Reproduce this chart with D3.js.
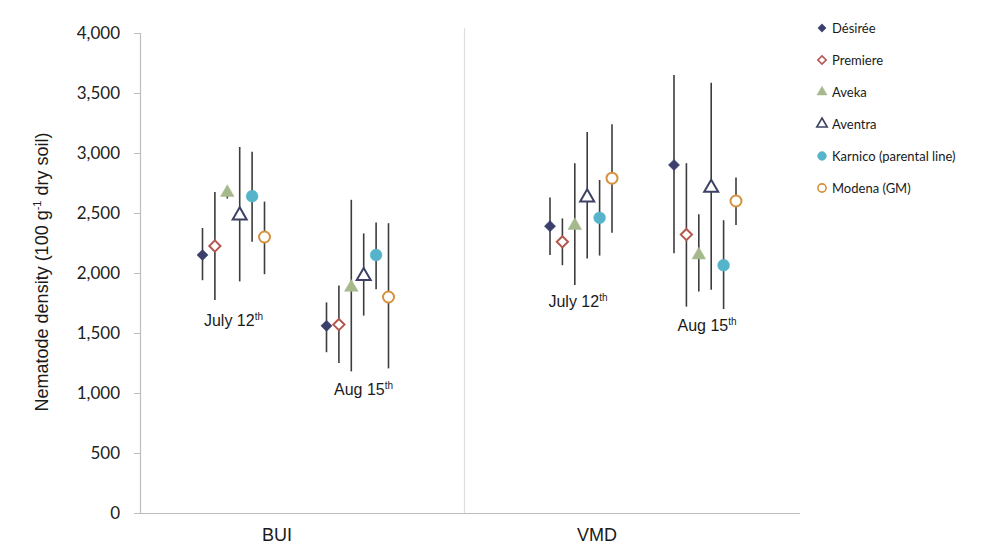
<!DOCTYPE html>
<html>
<head>
<meta charset="utf-8">
<script src="https://cdn.jsdelivr.net/npm/d3@7"></script>
<style>
  html, body { margin: 0; padding: 0; background: #ffffff; }
  svg { display: block; }
</style>
</head>
<body>
<svg id="chart" width="986" height="551"></svg>
<script>
// Cultivars (legend order)
const cultivars = ["Désirée", "Premiere", "Aveka", "Aventra", "Karnico (parental line)", "Modena (GM)"];
const sites = ["BUI", "VMD"];
const dates = ["July 12", "Aug 15"];
const yTicks = [0, 500, 1000, 1500, 2000, 2500, 3000, 3500, 4000];

// Mean nematode density per cultivar, one array per site × sampling date
const meanBUIJul = [2150, 2225, 2670, 2480, 2640, 2300];
const meanBUIAug = [1560, 1570, 1880, 1975, 2150, 1800];
const meanVMDJul = [2390, 2260, 2395, 2630, 2460, 2790];
const meanVMDAug = [2900, 2320, 2150, 2710, 2065, 2600];

// Lower / upper ends of the error bars
const lowBUIJul  = [1940, 1775, 2620, 1930, 2260, 1990];
const highBUIJul = [2375, 2675, 2720, 3050, 3010, 2595];
const lowBUIAug  = [1340, 1250, 1180, 1645, 1865, 1205];
const highBUIAug = [1755, 1895, 2610, 2330, 2420, 2415];
const lowVMDJul  = [2150, 2065, 1900, 2120, 2145, 2335];
const highVMDJul = [2630, 2455, 2915, 3175, 2775, 3240];
const lowVMDAug  = [2165, 1720, 1845, 1860, 1700, 2400];
const highVMDAug = [3650, 2915, 2490, 3585, 2440, 2795];

const series = [
  { site: "BUI", date: "July 12", mean: meanBUIJul, low: lowBUIJul, high: highBUIJul },
  { site: "BUI", date: "Aug 15",  mean: meanBUIAug, low: lowBUIAug, high: highBUIAug },
  { site: "VMD", date: "July 12", mean: meanVMDJul, low: lowVMDJul, high: highVMDJul },
  { site: "VMD", date: "Aug 15",  mean: meanVMDAug, low: lowVMDAug, high: highVMDAug }
];

// Marker styles per cultivar
const diamond = d3.symbolDiamond2 || d3.symbolDiamond;
const styles = [
  { shape: diamond,           color: "#3a3f6c", filled: true,  size: 80 },
  { shape: diamond,           color: "#b3574f", filled: false, size: 80 },
  { shape: d3.symbolTriangle, color: "#a6b98c", filled: true,  size: 80 },
  { shape: d3.symbolTriangle, color: "#3d4264", filled: false, size: 85 },
  { shape: d3.symbolCircle,   color: "#55b4c9", filled: true,  size: 110 },
  { shape: d3.symbolCircle,   color: "#d6913e", filled: false, size: 95 }
];

const svg = d3.select("#chart");
const plot = { left: 140, right: 800, top: 33, bottom: 513 };

const y = d3.scaleLinear().domain([0, 4000]).range([plot.bottom, plot.top]);
// site centre positions
const xSite = d3.scalePoint().domain(sites).range([295.5, 643]);
// sampling date offset within a site
const xDate = d3.scalePoint().domain(dates).range([-62, 62]);
// cultivar offset within a sampling date
const xCult = d3.scalePoint().domain(cultivars).range([-31, 31]);

const xPos = (s, c) => xSite(s.site) + xDate(s.date) + xCult(c);

// x axis baseline
svg.append("line")
  .attr("x1", plot.left).attr("x2", plot.right)
  .attr("y1", plot.bottom + 0.5).attr("y2", plot.bottom + 0.5)
  .attr("stroke", "#bdbdbd").attr("stroke-width", 1.2);

// divider between the two sites
svg.append("line")
  .attr("x1", 464.5).attr("x2", 464.5)
  .attr("y1", 28).attr("y2", plot.bottom)
  .attr("stroke", "#dedede").attr("stroke-width", 1.2);

// y axis
const yAxis = svg.append("g")
  .attr("transform", `translate(${plot.left},0)`)
  .call(d3.axisLeft(y).tickValues(yTicks).tickFormat(d3.format(",")).tickSize(6).tickPadding(14));
yAxis.select(".domain").attr("stroke", "#bdbdbd").attr("stroke-width", 1.2);
yAxis.selectAll(".tick line").attr("stroke", "#bdbdbd");
yAxis.selectAll(".tick text")
  .attr("fill", "#222")
  .style("font-family", "Lato, 'Open Sans', sans-serif")
  .style("font-size", "17px");

// y axis title
const yTitle = svg.append("text")
  .attr("transform", "translate(48,272) rotate(-90)")
  .attr("text-anchor", "middle")
  .attr("fill", "#1a1a1a")
  .style("font-family", "'Liberation Sans', Arial, sans-serif")
  .style("font-size", "18px");
yTitle.append("tspan").text("Nematode density (100 g");
yTitle.append("tspan").attr("dy", -7).style("font-size", "11px").text("-1");
yTitle.append("tspan").attr("dy", 7).text(" dry soil)");

// site labels
const siteLabelX = { BUI: 277, VMD: 597 };
svg.selectAll("text.site").data(sites).enter().append("text")
  .attr("class", "site")
  .attr("x", d => siteLabelX[d]).attr("y", 541)
  .attr("text-anchor", "middle")
  .attr("fill", "#1a1a1a")
  .style("font-family", "'Liberation Sans', Arial, sans-serif")
  .style("font-size", "18px")
  .text(d => d);

// error bars and markers
series.forEach(s => {
  const g = svg.append("g");
  g.selectAll("line.err").data(cultivars).enter().append("line")
    .attr("x1", (c) => xPos(s, c)).attr("x2", (c) => xPos(s, c))
    .attr("y1", (c, i) => y(s.high[i])).attr("y2", (c, i) => y(s.low[i]))
    .attr("stroke", "#3c3c3c").attr("stroke-width", 1.6);
  g.selectAll("path.mk").data(cultivars).enter().append("path")
    .attr("transform", (c, i) => `translate(${xPos(s, c)},${y(s.mean[i])})`)
    .attr("d", (c, i) => d3.symbol().type(styles[i].shape).size(styles[i].size)())
    .attr("fill", (c, i) => styles[i].filled ? styles[i].color : "#ffffff")
    .attr("stroke", (c, i) => styles[i].color)
    .attr("stroke-width", (c, i) => styles[i].filled ? 0.5 : 2);
});

// sampling date labels
const dateLabels = [
  { site: "BUI", date: "July 12", text: "July 12", dx: 0,  y: 326 },
  { site: "BUI", date: "Aug 15",  text: "Aug 15",  dx: 6,  y: 395 },
  { site: "VMD", date: "July 12", text: "July 12", dx: -3, y: 307 },
  { site: "VMD", date: "Aug 15",  text: "Aug 15",  dx: 2,  y: 331 }
];
dateLabels.forEach(d => {
  const t = svg.append("text")
    .attr("x", xSite(d.site) + xDate(d.date) + d.dx).attr("y", d.y)
    .attr("text-anchor", "middle")
    .attr("fill", "#1a1a1a")
    .style("font-family", "'Liberation Sans', Arial, sans-serif")
    .style("font-size", "16px");
  t.append("tspan").text(d.text);
  t.append("tspan").attr("dy", -6).style("font-size", "10px").text("th");
});

// legend
const legend = svg.append("g").attr("transform", "translate(822,28)");
const rows = legend.selectAll("g").data(cultivars).enter().append("g")
  .attr("transform", (d, i) => `translate(0,${i * 32})`);
rows.append("path")
  .attr("d", (d, i) => d3.symbol().type(styles[i].shape).size(styles[i].size * 0.55)())
  .attr("fill", (d, i) => styles[i].filled ? styles[i].color : "#ffffff")
  .attr("stroke", (d, i) => styles[i].color)
  .attr("stroke-width", (d, i) => styles[i].filled ? 0.5 : 1.6);
rows.append("text")
  .attr("x", 10).attr("y", 4.5)
  .attr("fill", "#1a1a1a")
  .style("font-family", "Lato, 'Open Sans', sans-serif")
  .style("font-size", "13px")
  .text(d => d);
</script>
</body>
</html>
